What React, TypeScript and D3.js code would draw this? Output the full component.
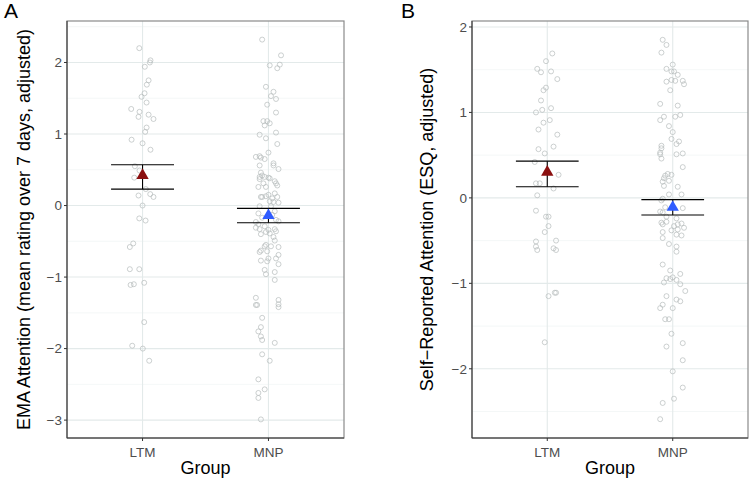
import React, { useEffect } from 'react';
import * as d3 from 'd3';

// [value, jitter in category units]
const emaLtm: [number, number][] = [
  [2.2, -0.026], [2.03, 0.063], [2.0, 0.058], [1.94, 0.018], [1.75, 0.048], [1.69, 0.034],
  [1.57, 0.016], [1.52, -0.008], [1.44, 0.032], [1.35, -0.09], [1.31, -0.024], [1.24, -0.032],
  [1.27, 0.048], [1.21, 0.087], [1.09, 0.032], [1.03, 0.021], [0.92, -0.087], [0.87, 0],
  [0.78, 0.063], [0.55, -0.061], [0.49, -0.024], [0.39, -0.066], [0.23, 0.026], [0.14, -0.032],
  [0.16, 0.061], [0.12, 0.087], [0.0, 0], [-0.18, -0.026], [-0.21, 0.024], [-0.53, -0.074],
  [-0.58, -0.101], [-0.89, -0.101], [-0.89, -0.026], [-1.11, -0.095], [-1.1, -0.069],
  [-1.08, 0.013], [-1.63, 0.013], [-1.96, -0.082], [-2.0, 0.002], [-2.17, 0.053],
];

const emaMnp: [number, number][] = [
  [2.32, -0.05], [2.1, 0.1], [1.96, 0.01], [1.97, 0.09], [1.92, 0.07], [1.66, -0.02],
  [1.59, 0.04], [1.53, 0.02], [1.49, 0.06], [1.41, -0.01], [1.3, 0.06], [1.18, -0.04],
  [1.18, -0.01], [1.15, 0.01], [1.12, -0.03], [1.02, 0.06], [0.99, -0.07], [0.94, -0.02],
  [0.86, 0.07], [0.74, 0.0], [0.68, -0.1], [0.69, -0.07], [0.67, -0.06], [0.65, -0.03],
  [0.56, -0.07], [0.59, 0.04], [0.56, 0.04], [0.51, 0.08], [0.46, -0.06], [0.42, -0.05],
  [0.4, -0.07], [0.4, -0.03], [0.39, 0.0], [0.38, 0.01], [0.37, -0.07], [0.34, 0.05],
  [0.31, 0.06], [0.31, -0.04], [0.26, -0.08], [0.28, 0.07], [0.26, -0.02], [0.12, -0.06],
  [0.12, -0.05], [0.13, -0.02], [0.15, 0.0], [0.17, 0.05], [0.12, 0.07], [0.1, 0.03],
  [0.06, 0.01], [0.04, 0.08], [0.05, 0.04], [-0.01, -0.07], [-0.01, 0.02], [-0.08, 0.05],
  [-0.11, -0.08], [-0.13, 0.03], [-0.17, -0.05], [-0.2, 0.06], [-0.22, 0.08], [-0.23, -0.1],
  [-0.26, -0.08], [-0.29, -0.03], [-0.31, -0.1], [-0.33, -0.07], [-0.34, 0.0], [-0.33, 0.05],
  [-0.37, -0.02], [-0.36, 0.06], [-0.39, 0.01], [-0.4, -0.06], [-0.44, 0.04], [-0.49, 0.05],
  [-0.55, -0.02], [-0.57, -0.03], [-0.57, 0.02], [-0.58, 0.08], [-0.63, -0.06], [-0.65, -0.07],
  [-0.64, -0.01], [-0.69, 0.08], [-0.74, 0.0], [-0.74, 0.06], [-0.77, -0.06], [-0.78, -0.01],
  [-0.82, 0.08], [-0.9, -0.03], [-0.93, 0.05], [-0.96, -0.02], [-1.04, 0.05], [-1.29, -0.1],
  [-1.39, -0.1], [-1.39, -0.09], [-1.32, 0.08], [-1.38, 0.08], [-1.42, 0.08], [-1.57, -0.05],
  [-1.7, -0.06], [-1.76, -0.08], [-1.83, -0.06], [-1.88, -0.05], [-1.92, 0.05], [-2.08, -0.05],
  [-2.17, 0.01], [-2.43, -0.08], [-2.57, -0.03], [-2.62, -0.08], [-2.69, -0.08], [-2.99, -0.06],
];

const esqLtm: [number, number][] = [
  [1.69, 0.04], [1.6, -0.01], [1.51, -0.08], [1.47, -0.05], [1.48, 0.03], [1.39, 0.08],
  [1.29, -0.01], [1.26, -0.03], [1.14, -0.05], [1.0, -0.09], [1.03, -0.04], [1.05, 0.03],
  [0.91, 0.02], [0.88, -0.03], [0.8, -0.07], [0.74, 0.08], [0.6, 0.05], [0.57, -0.07],
  [0.52, -0.02], [0.42, -0.1], [0.27, 0.09], [0.17, -0.09], [0.17, -0.06], [0.11, 0.05],
  [0.03, -0.08], [-0.15, -0.09], [-0.22, -0.01], [-0.22, 0.01], [-0.33, 0.01], [-0.4, -0.02],
  [-0.51, -0.09], [-0.5, 0.07], [-0.57, -0.09], [-0.61, -0.08], [-0.59, 0.05], [-0.61, 0.07],
  [-1.11, 0.06], [-1.11, 0.07], [-1.15, 0.01], [-1.69, -0.02],
];

const esqMnp: [number, number][] = [
  [1.85, -0.08], [1.79, -0.05], [1.7, -0.09], [1.56, 0.0], [1.51, -0.05], [1.48, -0.01],
  [1.48, 0.01], [1.44, 0.04], [1.36, -0.05], [1.38, -0.01], [1.37, 0.02], [1.37, 0.08],
  [1.33, 0.09], [1.26, -0.02], [1.1, -0.1], [1.08, 0.04], [0.91, -0.1], [0.95, -0.07],
  [0.95, 0.02], [0.97, 0.06], [0.84, -0.03], [0.77, 0.0], [0.69, -0.01], [0.66, 0.05],
  [0.63, 0.03], [0.61, -0.09], [0.58, -0.09], [0.53, -0.1], [0.51, -0.1], [0.52, 0.08],
  [0.51, 0.03], [0.46, -0.09], [0.36, 0.08], [0.28, -0.04], [0.26, -0.06], [0.27, -0.01],
  [0.23, -0.07], [0.19, -0.08], [0.2, -0.03], [0.14, -0.07], [0.13, 0.04], [0.04, 0.07],
  [0.04, -0.03], [-0.01, -0.08], [-0.03, -0.09], [-0.12, 0.08], [-0.11, -0.06], [-0.16, -0.1],
  [-0.17, -0.08], [-0.22, -0.05], [-0.24, 0.03], [-0.29, -0.09], [-0.31, -0.08], [-0.28, -0.05],
  [-0.31, 0.04], [-0.3, 0.07], [-0.33, 0.01], [-0.35, 0.09], [-0.38, -0.01], [-0.37, 0.04],
  [-0.4, -0.08], [-0.43, 0.03], [-0.44, 0.07], [-0.47, -0.08], [-0.54, -0.03], [-0.57, 0.03],
  [-0.63, 0.03], [-0.78, -0.08], [-0.85, -0.02], [-0.89, 0.06], [-0.94, -0.05], [-0.93, 0.0],
  [-0.95, -0.02], [-0.99, -0.07], [-0.96, 0.03], [-1.01, 0.06], [-1.09, 0.1], [-1.15, -0.05],
  [-1.19, 0.03], [-1.21, 0.06], [-1.25, -0.08], [-1.29, -0.1], [-1.29, 0.0], [-1.42, -0.06],
  [-1.42, -0.03], [-1.59, -0.01], [-1.74, -0.05], [-1.7, 0.08], [-1.9, 0.08], [-2.03, 0.0],
  [-2.22, 0.08], [-2.35, 0.01], [-2.4, -0.08], [-2.59, -0.1],
];

const groups = ['LTM', 'MNP'];
const groupColors = ['#8b1010', '#2f5cff'];

// mean, lower, upper per group
const emaSummary = [
  { mean: 0.42, lo: 0.23, hi: 0.57 },
  { mean: -0.14, lo: -0.24, hi: -0.04 },
];
const esqSummary = [
  { mean: 0.3, lo: 0.13, hi: 0.43 },
  { mean: -0.11, lo: -0.2, hi: -0.02 },
];

const emaTicks = [-3, -2, -1, 0, 1, 2];
const emaMinor = [-2.5, -1.5, -0.5, 0.5, 1.5, 2.5];
const esqTicks = [-2, -1, 0, 1, 2];
const esqMinor = [-2.5, -1.5, -0.5, 0.5, 1.5];

const FONT = '"Liberation Sans", Arial, Helvetica, sans-serif';
const fmt = (v: number) => (v < 0 ? '\u2212' + Math.abs(v) : String(v));

type PanelProps = {
  left: number;
  right: number;
  letter: string;
  letterX: number;
  titleX: number;
  yTitle: string;
  domain: [number, number];
  ticks: number[];
  minor: number[];
  series: [number, number][][];
  summary: { mean: number; lo: number; hi: number }[];
};

const TOP = 21;
const BOTTOM = 438;

const Panel = ({ left, right, letter, letterX, titleX, yTitle, domain, ticks, minor, series, summary }: PanelProps) => {
  const y = d3.scaleLinear().domain(domain).range([BOTTOM, TOP]);
  const x = d3.scaleLinear().domain([0.4, 2.6]).range([left, right]);
  const tri = d3.symbol().type(d3.symbolTriangle).size(66)() as string;
  const cx = (left + right) / 2;
  const cy = (TOP + BOTTOM) / 2;
  return (
    <g>
      <rect x={left} y={TOP} width={right - left} height={BOTTOM - TOP} fill="#fff" />
      {minor.map(v => (
        <line key={'m' + v} x1={left} x2={right} y1={y(v)} y2={y(v)} stroke="#eff3f3" strokeWidth={0.7} />
      ))}
      {ticks.map(v => (
        <line key={'g' + v} x1={left} x2={right} y1={y(v)} y2={y(v)} stroke="#e3eaea" strokeWidth={1.1} />
      ))}
      {groups.map((g, i) => (
        <line key={'v' + g} x1={x(i + 1)} x2={x(i + 1)} y1={TOP} y2={BOTTOM} stroke="#e3eaea" strokeWidth={1.1} />
      ))}
      {series.map((pts, i) =>
        pts.map((p, j) => (
          <circle key={i + '-' + j} cx={x(i + 1 + p[1])} cy={y(p[0])} r={2.5}
            fill="none" stroke="#b6bcbc" strokeWidth={0.7} />
        ))
      )}
      {summary.map((s, i) => (
        <g key={'s' + i}>
          <line x1={x(i + 1)} x2={x(i + 1)} y1={y(s.lo)} y2={y(s.hi)} stroke="#000" strokeWidth={1.1} />
          <line x1={x(i + 0.75)} x2={x(i + 1.25)} y1={y(s.lo)} y2={y(s.lo)} stroke="#000" strokeWidth={1.1} />
          <line x1={x(i + 0.75)} x2={x(i + 1.25)} y1={y(s.hi)} y2={y(s.hi)} stroke="#000" strokeWidth={1.1} />
          <path d={tri} transform={`translate(${x(i + 1)},${y(s.mean)})`} fill={groupColors[i]} />
        </g>
      ))}
      <rect x={left} y={TOP} width={right - left} height={BOTTOM - TOP} fill="none" stroke="#8a8a8a" strokeWidth={1.2} />
      <line x1={left} x2={left} y1={TOP} y2={BOTTOM} stroke="#333" strokeWidth={1} />
      <line x1={left} x2={right} y1={BOTTOM} y2={BOTTOM} stroke="#333" strokeWidth={1} />
      {ticks.map(v => (
        <g key={'t' + v}>
          <line x1={left - 3} x2={left} y1={y(v)} y2={y(v)} stroke="#333" />
          <text x={left - 5} y={y(v)} dy="0.36em" textAnchor="end" fontSize={13.5} fill="#4d4d4d">{fmt(v)}</text>
        </g>
      ))}
      {groups.map((g, i) => (
        <g key={'xt' + g}>
          <line x1={x(i + 1)} x2={x(i + 1)} y1={BOTTOM} y2={BOTTOM + 3} stroke="#333" />
          <text x={x(i + 1)} y={BOTTOM + 19} textAnchor="middle" fontSize={13.5} fill="#4d4d4d">{g}</text>
        </g>
      ))}
      <text x={cx} y={474} textAnchor="middle" fontSize={18} fill="#000">Group</text>
      <text transform={`translate(${titleX},${cy}) rotate(-90)`} textAnchor="middle" fontSize={18} fill="#000">{yTitle}</text>
      <text x={letterX} y={18} fontSize={21} fill="#000">{letter}</text>
    </g>
  );
};

export default function App() {
  useEffect(() => {
    document.body.style.margin = '0';
  }, []);
  return (
    <svg width={750} height={480} style={{ display: 'block', fontFamily: FONT, background: '#fff' }}>
      <Panel left={67} right={344} letter="A" letterX={4} titleX={30}
        yTitle="EMA Attention (mean rating over 7 days, adjusted)"
        domain={[-3.25, 2.58]} ticks={emaTicks} minor={emaMinor}
        series={[emaLtm, emaMnp]} summary={emaSummary} />
      <Panel left={472} right={748} letter="B" letterX={401} titleX={433}
        yTitle={'Self\u2212Reported Attention (ESQ, adjusted)'}
        domain={[-2.81, 2.07]} ticks={esqTicks} minor={esqMinor}
        series={[esqLtm, esqMnp]} summary={esqSummary} />
    </svg>
  );
}
